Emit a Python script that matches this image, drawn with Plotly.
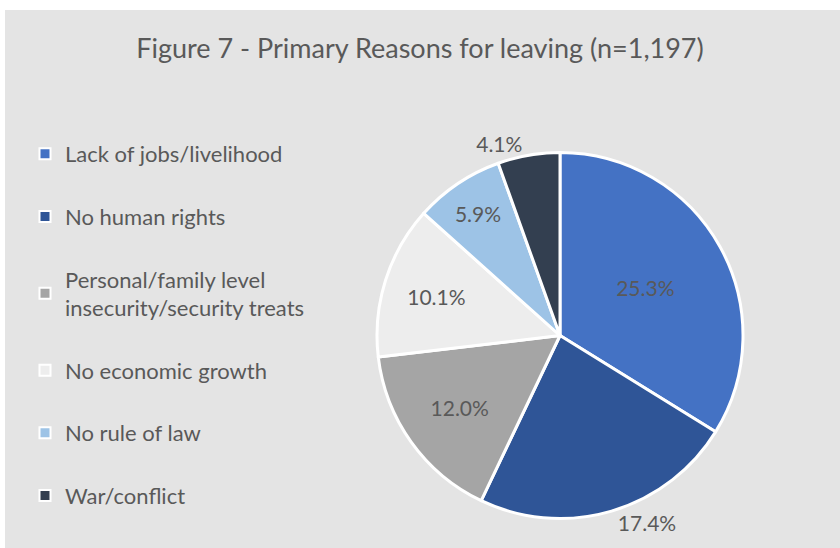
import plotly.graph_objects as go

labels = ["Lack of jobs/livelihood", "No human rights",
          "Personal/family level<br>insecurity/security treats",
          "No economic growth", "No rule of law", "War/conflict"]
values = [25.3, 17.4, 12.0, 10.1, 5.9, 4.1]
colors = ["#4472C4", "#2F5597", "#A5A5A5", "#EDEDED", "#9DC3E6", "#333F50"]
text_pos = ["inside", "outside", "inside", "inside", "inside", "outside"]

W, H = 840, 548
BG = "#E4E4E4"
TXT = "#595959"
FONT = "Lato"

fig = go.Figure()
fig.add_trace(go.Pie(
    labels=labels, values=values, sort=False, direction="clockwise", rotation=0,
    marker=dict(colors=colors, line=dict(color="white", width=3)),
    text=[f"{v:.1f}%" for v in values], texttemplate="%{text}",
    textposition=text_pos, insidetextorientation="horizontal",
    textfont=dict(family=FONT, size=21, color=TXT),
    showlegend=False, hoverinfo="label+text",
    domain=dict(x=[(560 - 183) / W, (560 + 183) / W],
                y=[(H - 335.5 - 183) / H, (H - 335.5 + 183) / H]),
))

for lab, col in zip(labels, colors):
    fig.add_trace(go.Scatter(
        x=[None], y=[None], mode="markers", name=lab, legendgroup=lab,
        marker=dict(symbol="square", size=11, color=col, line=dict(color="white", width=2)),
    ))

fig.update_layout(
    width=W, height=H,
    margin=dict(l=0, r=0, t=0, b=0),
    paper_bgcolor="white", plot_bgcolor="rgba(0,0,0,0)",
    xaxis=dict(visible=False), yaxis=dict(visible=False),
    title=dict(text="Figure 7 - Primary Reasons for leaving (n=1,197)",
               x=0.5, xanchor="center", y=1 - 49 / H, yanchor="middle",
               font=dict(family=FONT, size=27, color=TXT)),
    legend=dict(x=25 / W, xanchor="left", y=1 - 133 / H, yanchor="top",
                font=dict(family=FONT, size=22, color=TXT),
                tracegroupgap=31, bgcolor="rgba(0,0,0,0)", itemsizing="trace"),
    shapes=[dict(type="rect", xref="paper", yref="paper", x0=5 / W, x1=1, y0=0, y1=1 - 10 / H,
                 fillcolor=BG, line=dict(width=0), layer="below")],
    font=dict(family=FONT, color=TXT),
)

fig.write_html("out.html", config={"displayModeBar": False},
               post_script="document.body.style.margin='0';document.body.style.overflow='hidden';")
